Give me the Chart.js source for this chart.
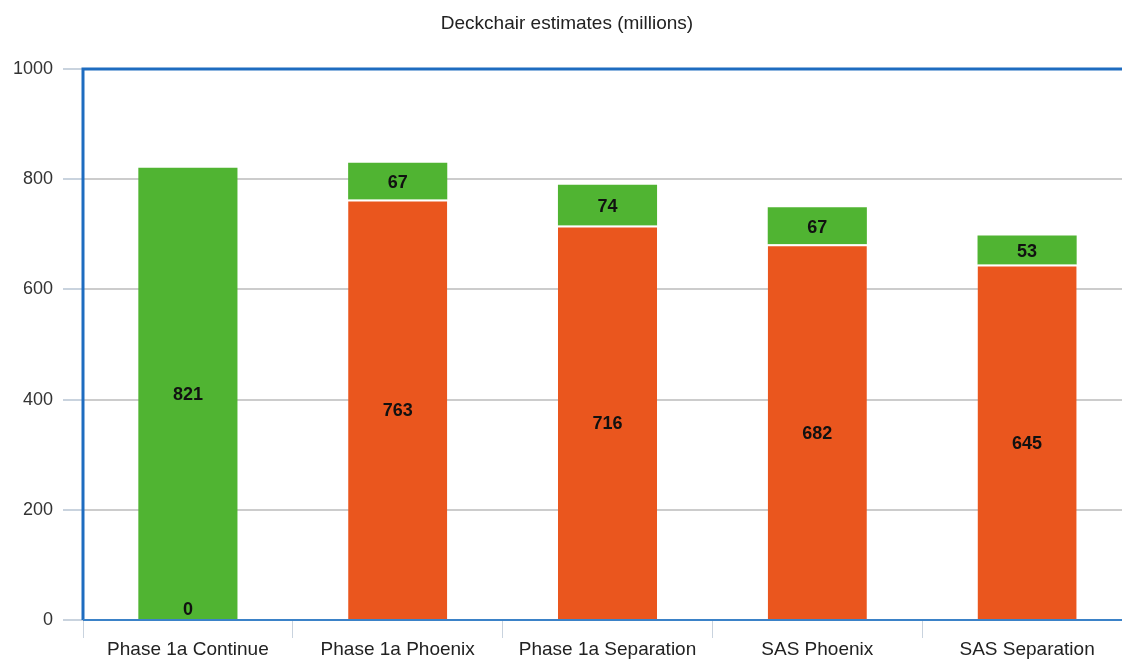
<!DOCTYPE html>
<html>
<head>
<meta charset="utf-8">
<script src="https://cdn.jsdelivr.net/npm/chart.js@4/dist/chart.umd.min.js"></script>
<style>
html,body{margin:0;padding:0;background:#fff;overflow:hidden;}
#wrap{width:1132px;height:659px;position:relative;}
</style>
</head>
<body>
<div id="wrap"><canvas id="c"></canvas></div>
<script>
const categories = ["Phase 1a Continue", "Phase 1a Phoenix", "Phase 1a Separation", "SAS Phoenix", "SAS Separation"];
const baseValues = [0, 763, 716, 682, 645];
const addedValues = [821, 67, 74, 67, 53];
const yTicks = [0, 200, 400, 600, 800, 1000];
const chartTitle = "Deckchair estimates (millions)";

const FONT = "'Liberation Sans', Arial, sans-serif";

const titlePlugin = {
  id: 'titleP',
  afterDraw(chart) {
    const ctx = chart.ctx;
    ctx.save();
    ctx.font = "19px " + FONT;
    ctx.fillStyle = '#222';
    ctx.textAlign = 'center';
    ctx.textBaseline = 'middle';
    ctx.fillText(chartTitle, 567, 24);
    ctx.restore();
  }
};

const labelPlugin = {
  id: 'labelsP',
  afterDatasetsDraw(chart) {
    const ctx = chart.ctx;
    ctx.save();
    ctx.font = "bold 18px " + FONT;
    ctx.fillStyle = '#111';
    ctx.textAlign = 'center';
    ctx.textBaseline = 'middle';
    chart.data.datasets.forEach((ds, di) => {
      const meta = chart.getDatasetMeta(di);
      meta.data.forEach((el, i) => {
        const v = ds.data[i];
        let y;
        if (v === 0) y = el.base - 10;
        else y = (el.y + el.base) / 2 + 2;
        ctx.fillText(String(v), el.x, y);
      });
    });
    ctx.restore();
  }
};

const borderPlugin = {
  id: 'borderP',
  afterDraw(chart) {
    const a = chart.chartArea;
    const ctx = chart.ctx;
    ctx.save();
    ctx.strokeStyle = '#1e6cc0';
    ctx.lineWidth = 3;
    ctx.beginPath();
    ctx.moveTo(a.left, a.bottom);
    ctx.lineTo(a.left, a.top);
    ctx.lineTo(a.right + 5, a.top);
    ctx.stroke();
    ctx.lineWidth = 2;
    ctx.strokeStyle = '#3b82c8';
    ctx.beginPath();
    ctx.moveTo(a.left, a.bottom);
    ctx.lineTo(a.right + 5, a.bottom);
    ctx.stroke();
    ctx.restore();
  }
};

new Chart(document.getElementById('c'), {
  type: 'bar',
  data: {
    labels: categories,
    datasets: [
      {
        label: 'Base',
        data: baseValues,
        backgroundColor: '#ea561e',
        borderColor: '#ffffff',
        borderWidth: {top: 2, left: 0, right: 0, bottom: 0},
        borderSkipped: 'bottom',
        barPercentage: 0.9,
        categoryPercentage: 0.525
      },
      {
        label: 'Added',
        data: addedValues,
        backgroundColor: '#50b432',
        borderWidth: 0,
        barPercentage: 0.9,
        categoryPercentage: 0.525
      }
    ]
  },
  options: {
    responsive: true,
    maintainAspectRatio: false,
    animation: false,
    events: [],
    layout: {padding: {top: 69, left: 0, right: 0, bottom: 0}},
    plugins: {legend: {display: false}, title: {display: false}, tooltip: {enabled: false}},
    scales: {
      x: {
        stacked: true,
        border: {display: false},
        grid: {display: true, drawOnChartArea: false, drawTicks: true, tickLength: 18, color: '#c9d3de', offset: true},
        ticks: {color: '#222', font: {family: FONT, size: 19}, padding: 0, maxRotation: 0, autoSkip: false},
        afterFit(s) { s.height = 39; }
      },
      y: {
        stacked: true,
        min: 0, max: 1000,
        border: {display: false},
        afterBuildTicks(s) { s.ticks = yTicks.map(v => ({value: v})); },
        grid: {color: (c) => c.tick && c.tick.value === 0 ? 'rgba(0,0,0,0)' : '#cccccc', tickColor: '#c9d3de', tickLength: 20, lineWidth: 2},
        ticks: {color: '#333', font: {family: FONT, size: 18}, padding: 10, callback: (v) => String(v)},
        afterFit(s) { s.width = 83; }
      }
    }
  },
  plugins: [titlePlugin, labelPlugin, borderPlugin]
});
</script>
</body>
</html>
